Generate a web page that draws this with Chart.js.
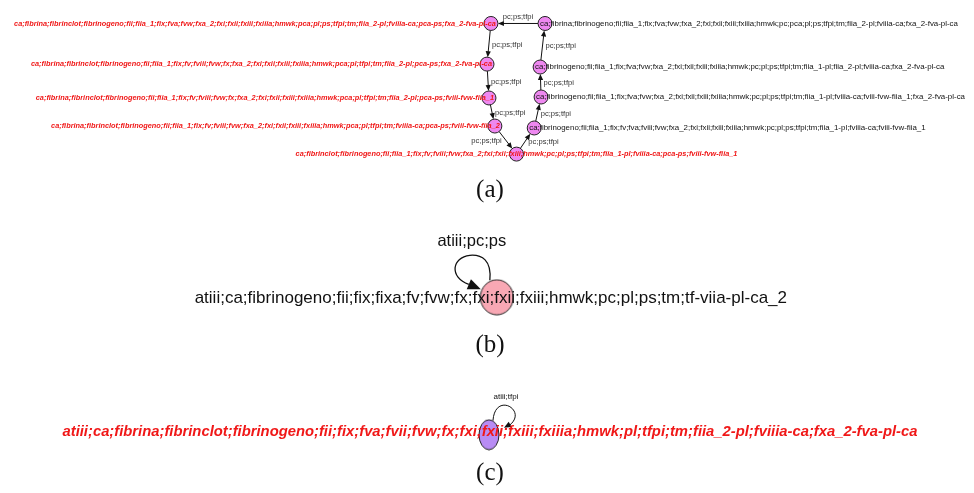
<!DOCTYPE html>
<html>
<head>
<meta charset="utf-8">
<script src="https://cdn.jsdelivr.net/npm/chart.js@4"></script>
<style>
  body { margin: 0; background: #fff; }
  #wrap { width: 974px; height: 493px; }
</style>
</head>
<body>
<div id="wrap"><canvas id="graph" width="974" height="493"></canvas></div>
<script>
// panel (a): state graph, nodes 0-4 left chain, 5-8 right chain
const aX = [491, 487, 489, 495, 517, 535, 542, 541, 546];
const aY = [16, 58, 93, 122, 151, 124, 92, 61, 16];
const aLabels = [
  "ca;fibrina;fibrinclot;fibrinogeno;fii;fiia_1;fix;fva;fvw;fxa_2;fxi;fxii;fxiii;fxiiia;hmwk;pca;pl;ps;tfpi;tm;fiia_2-pl;fviiia-ca;pca-ps;fxa_2-fva-pl-ca",
  "ca;fibrina;fibrinclot;fibrinogeno;fii;fiia_1;fix;fv;fviii;fvw;fx;fxa_2;fxi;fxii;fxiii;fxiiia;hmwk;pca;pl;tfpi;tm;fiia_2-pl;pca-ps;fxa_2-fva-pl-ca",
  "ca;fibrina;fibrinclot;fibrinogeno;fii;fiia_1;fix;fv;fviii;fvw;fx;fxa_2;fxi;fxii;fxiii;fxiiia;hmwk;pca;pl;tfpi;tm;fiia_2-pl;pca-ps;fviii-fvw-fiia_1",
  "ca;fibrina;fibrinclot;fibrinogeno;fii;fiia_1;fix;fv;fviii;fvw;fxa_2;fxi;fxii;fxiii;fxiiia;hmwk;pca;pl;tfpi;tm;fviiia-ca;pca-ps;fviii-fvw-fiia_2",
  "ca;fibrinclot;fibrinogeno;fii;fiia_1;fix;fv;fviii;fvw;fxa_2;fxi;fxii;fxiii;hmwk;pc;pl;ps;tfpi;tm;fiia_1-pl;fviiia-ca;pca-ps;fviii-fvw-fiia_1",
  "ca;fibrinogeno;fii;fiia_1;fix;fv;fva;fviii;fvw;fxa_2;fxi;fxii;fxiii;fxiiia;hmwk;pc;pl;ps;tfpi;tm;fiia_1-pl;fviiia-ca;fviii-fvw-fiia_1",
  "ca;fibrinogeno;fii;fiia_1;fix;fva;fvw;fxa_2;fxi;fxii;fxiii;fxiiia;hmwk;pc;pl;ps;tfpi;tm;fiia_1-pl;fviiia-ca;fviii-fvw-fiia_1;fxa_2-fva-pl-ca",
  "ca;fibrinogeno;fii;fiia_1;fix;fva;fvw;fxa_2;fxi;fxii;fxiii;fxiiia;hmwk;pc;pl;ps;tfpi;tm;fiia_1-pl;fiia_2-pl;fviiia-ca;fxa_2-fva-pl-ca",
  "ca;fibrina;fibrinogeno;fii;fiia_1;fix;fva;fvw;fxa_2;fxi;fxii;fxiii;fxiiia;hmwk;pc;pca;pl;ps;tfpi;tm;fiia_2-pl;fviiia-ca;fxa_2-fva-pl-ca"
];
const aHighlighted = [true, true, true, true, true, false, false, false, false];
const aEdges = [[8, 0], [0, 1], [1, 2], [2, 3], [3, 4], [4, 5], [5, 6], [6, 7], [7, 8]];
const aEdgeLabel = "pc;ps;tfpi";

// panel (b): single state with self loop
const bX = [497];
const bY = [299];
const bLabels = ["atiii;ca;fibrinogeno;fii;fix;fixa;fv;fvw;fx;fxi;fxii;fxiii;hmwk;pc;pl;ps;tm;tf-viia-pl-ca_2"];
const bLoopLabel = "atiii;pc;ps";

// panel (c): single state with self loop
const cX = [489];
const cY = [441];
const cLabels = ["atiii;ca;fibrina;fibrinclot;fibrinogeno;fii;fix;fva;fvii;fvw;fx;fxi;fxii;fxiii;fxiiia;hmwk;pl;tfpi;tm;fiia_2-pl;fviiia-ca;fxa_2-fva-pl-ca"];
const cLoopLabel = "atiii;tfpi";

const captions = ["(a)", "(b)", "(c)"];
const captionY = [189, 349, 481];

// --- layout / style (not data) ---
const RED = "#f01818";
const aLabelSide = ["right", "right", "right", "right", "center", "left", "left", "left", "left"];
const aEdgeSide = ["above", "right", "right", "right", "left", "right", "right", "right", "right"];
const NODE_R = 7;

function ellipseStyle(w, h, fill) {
  const c = document.createElement("canvas");
  c.width = w + 2; c.height = h + 2;
  const g = c.getContext("2d");
  g.beginPath();
  g.ellipse(c.width / 2, c.height / 2, w / 2, h / 2, 0, 0, Math.PI * 2);
  g.fillStyle = fill;
  g.fill();
  g.lineWidth = 1;
  g.strokeStyle = "#222";
  g.stroke();
  return c;
}

function arrowHead(ctx, x, y, ang, len, wid) {
  ctx.beginPath();
  ctx.moveTo(x, y);
  ctx.lineTo(x - len * Math.cos(ang) + wid * Math.sin(ang), y - len * Math.sin(ang) - wid * Math.cos(ang));
  ctx.lineTo(x - len * Math.cos(ang) - wid * Math.sin(ang), y - len * Math.sin(ang) + wid * Math.cos(ang));
  ctx.closePath();
  ctx.fill();
}

const graphPlugin = {
  id: "graphPlugin",
  beforeDatasetsDraw(chart) {
    const ctx = chart.ctx;
    const xs = chart.scales.x, ys = chart.scales.y;
    ctx.save();
    ctx.strokeStyle = "#111";
    ctx.fillStyle = "#111";
    ctx.lineWidth = 1;
    // straight edges of (a)
    aEdges.forEach(([s, t]) => {
      const x1 = xs.getPixelForValue(aX[s]), y1 = ys.getPixelForValue(aY[s]);
      const x2 = xs.getPixelForValue(aX[t]), y2 = ys.getPixelForValue(aY[t]);
      const ang = Math.atan2(y2 - y1, x2 - x1);
      const sx = x1 + NODE_R * Math.cos(ang), sy = y1 + NODE_R * Math.sin(ang);
      const ex = x2 - NODE_R * Math.cos(ang), ey = y2 - NODE_R * Math.sin(ang);
      ctx.beginPath();
      ctx.moveTo(sx, sy);
      ctx.lineTo(ex - 5 * Math.cos(ang), ey - 5 * Math.sin(ang));
      ctx.stroke();
      arrowHead(ctx, ex, ey, ang, 6, 2.6);
    });
    // self loop of (b)
    let nx = xs.getPixelForValue(bX[0]), ny = ys.getPixelForValue(bY[0]);
    ctx.lineWidth = 1.3;
    ctx.beginPath();
    ctx.moveTo(nx - 7, ny - 17);
    ctx.bezierCurveTo(nx - 5, ny - 37, nx - 15, ny - 43, nx - 27, ny - 42);
    ctx.bezierCurveTo(nx - 45, ny - 40, nx - 48, ny - 20, nx - 28, ny - 13);
    ctx.stroke();
    arrowHead(ctx, nx - 16, ny - 8, Math.atan2(5, 12), 13, 5.5);
    // self loop of (c)
    nx = xs.getPixelForValue(cX[0]); ny = ys.getPixelForValue(cY[0]);
    ctx.lineWidth = 1;
    ctx.beginPath();
    ctx.moveTo(nx + 4, ny - 14);
    ctx.bezierCurveTo(nx + 6, ny - 44, nx + 40, ny - 24, nx + 20, ny - 9);
    ctx.stroke();
    arrowHead(ctx, nx + 15, ny - 7, Math.atan2(13, -24), 7, 3);
    ctx.restore();
  },
  afterDatasetsDraw(chart) {
    const ctx = chart.ctx;
    const xs = chart.scales.x, ys = chart.scales.y;
    ctx.save();
    ctx.textBaseline = "middle";
    // node labels of (a)
    aLabels.forEach((lab, i) => {
      const px = xs.getPixelForValue(aX[i]), py = ys.getPixelForValue(aY[i]);
      ctx.font = aHighlighted[i] ? "italic bold 7.35px 'Liberation Sans'" : "7.9px 'Liberation Sans'";
      ctx.fillStyle = aHighlighted[i] ? RED : "#111";
      if (aLabelSide[i] === "right") { ctx.textAlign = "right"; ctx.fillText(lab, px + 5, py); }
      else if (aLabelSide[i] === "left") { ctx.textAlign = "left"; ctx.fillText(lab, px - 5, py); }
      else { ctx.textAlign = "center"; ctx.fillText(lab, px, py); }
    });
    // edge labels of (a)
    ctx.font = "7.6px 'Liberation Sans'";
    ctx.fillStyle = "#333";
    aEdges.forEach(([s, t], i) => {
      const mx = (xs.getPixelForValue(aX[s]) + xs.getPixelForValue(aX[t])) / 2;
      const my = (ys.getPixelForValue(aY[s]) + ys.getPixelForValue(aY[t])) / 2;
      if (aEdgeSide[i] === "above") { ctx.textAlign = "center"; ctx.fillText(aEdgeLabel, mx, my - 7); }
      else if (aEdgeSide[i] === "left") { ctx.textAlign = "right"; ctx.fillText(aEdgeLabel, mx - 4, my + 1); }
      else { ctx.textAlign = "left"; ctx.fillText(aEdgeLabel, mx + 3, my + 1); }
    });
    // (b)
    let nx = xs.getPixelForValue(bX[0]), ny = ys.getPixelForValue(bY[0]);
    ctx.textAlign = "center";
    ctx.fillStyle = "#111";
    ctx.font = "17px 'Liberation Sans'";
    ctx.fillText(bLabels[0], nx - 6, ny + 1);
    ctx.font = "16.5px 'Liberation Sans'";
    ctx.fillText(bLoopLabel, nx - 25, ny - 56);
    // (c)
    nx = xs.getPixelForValue(cX[0]); ny = ys.getPixelForValue(cY[0]);
    ctx.fillStyle = RED;
    ctx.font = "italic bold 14.8px 'Liberation Sans'";
    ctx.fillText(cLabels[0], nx + 1, ny - 3);
    ctx.fillStyle = "#111";
    ctx.font = "8px 'Liberation Sans'";
    ctx.fillText(cLoopLabel, nx + 17, ny - 38);
    // captions
    ctx.font = "25px 'Liberation Serif'";
    captions.forEach((c, i) => ctx.fillText(c, xs.getPixelForValue(490), ys.getPixelForValue(captionY[i])));
    ctx.restore();
  }
};

const ctx = document.getElementById("graph").getContext("2d");
new Chart(ctx, {
  type: "scatter",
  data: {
    datasets: [
      {
        label: "a",
        data: aX.map((x, i) => ({ x: x, y: aY[i] })),
        pointRadius: NODE_R,
        pointBackgroundColor: "#ee88f0",
        pointBorderColor: "#222",
        pointBorderWidth: 1
      },
      {
        label: "b",
        data: bX.map((x, i) => ({ x: x, y: bY[i] })),
        pointStyle: ellipseStyle(33, 35, "#f8a8b4")
      },
      {
        label: "c",
        data: cX.map((x, i) => ({ x: x, y: cY[i] })),
        pointStyle: ellipseStyle(20, 30, "#b88cf4")
      }
    ]
  },
  options: {
    responsive: false,
    animation: false,
    events: [],
    layout: { padding: 0 },
    scales: {
      x: { type: "linear", min: 0, max: 974, display: false },
      y: { type: "linear", min: 0, max: 493, reverse: true, display: false }
    },
    plugins: { legend: { display: false }, tooltip: { enabled: false } }
  },
  plugins: [graphPlugin]
});
</script>
</body>
</html>
